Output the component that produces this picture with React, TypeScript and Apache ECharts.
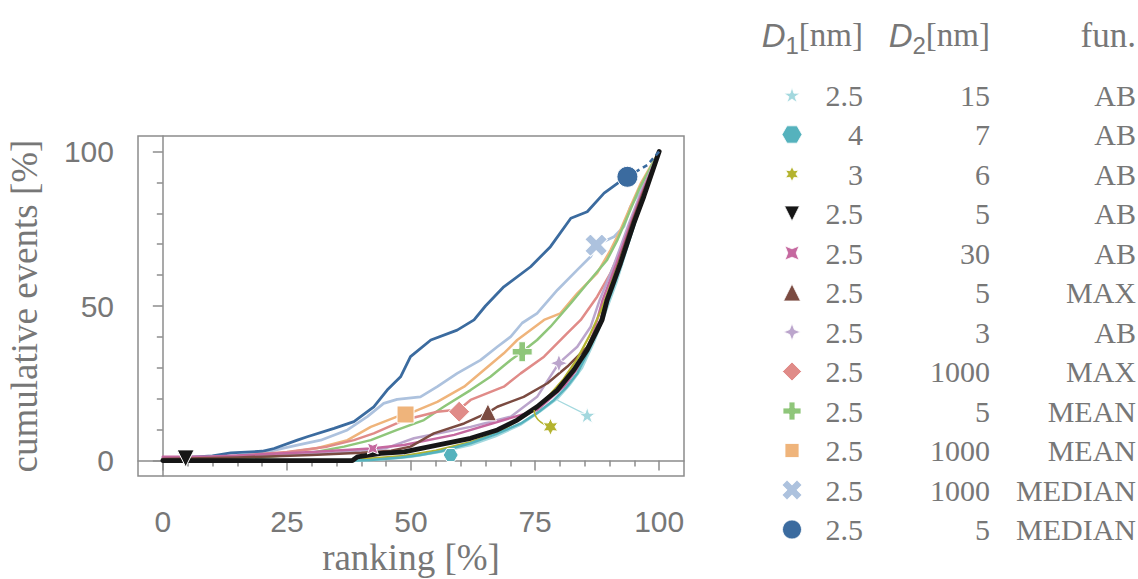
import React, { useEffect, useRef } from "react";
import * as echarts from "echarts";

// ---- table (legend) data ----
const D1_VALUES = ["2.5", "4", "3", "2.5", "2.5", "2.5", "2.5", "2.5", "2.5", "2.5", "2.5", "2.5"];
const D2_VALUES = ["15", "7", "6", "5", "30", "5", "3", "1000", "5", "1000", "1000", "5"];
const FUN_VALUES = ["AB", "AB", "AB", "AB", "AB", "MAX", "AB", "MAX", "MEAN", "MEAN", "MEDIAN", "MEDIAN"];

// ---- axis ticks ----
const X_MAJOR = [0, 25, 50, 75, 100];
const X_MINOR = [5, 10, 15, 20, 30, 35, 40, 45, 55, 60, 65, 70, 80, 85, 90, 95];
const Y_MAJOR = [0, 50, 100];
const Y_MINOR = [10, 20, 30, 40, 60, 70, 80, 90];

// ---- curves: [ranking %, cumulative events %] ----
const lightCyanCurve = [[0, 0], [40, 0], [44, 0.3], [50, 1.2], [56, 2.8], [62, 5], [67, 7.8], [72, 11.5], [76, 15.8], [79.5, 20], [82, 24.5], [84.5, 30], [86.8, 38], [89, 47], [91.5, 58], [93.8, 70], [95.8, 80], [97.6, 89], [100, 100]];
const cyanCurve = [[0, 0], [39, 0], [41.9, 0.2], [48, 1], [51.9, 1.8], [56, 3], [62, 5.6], [67, 8.5], [72.1, 12], [75.5, 15.5], [78.8, 19.6], [81.2, 23.5], [83.5, 28.2], [86.2, 37], [88.7, 47], [91.2, 58], [93.5, 69], [95.5, 79], [97.4, 88], [100, 100]];
const oliveCurve = [[0, 0], [38.5, 0], [40, 0.5], [48.6, 1.5], [55, 3.2], [62, 6], [67.5, 9], [72.7, 14.2], [74.8, 16.3], [77.8, 21], [80.8, 26.5], [83.5, 33], [86, 40.5], [88.4, 49], [91, 60], [93.8, 72], [96, 82], [97.8, 90], [100, 100]];
const blackCurve = [[0, 0], [38.2, 0], [39.2, 1.2], [43.9, 2.3], [48.6, 2.8], [55.3, 5], [62, 7.2], [67.4, 9.9], [71.4, 13.1], [75.4, 17.4], [79.5, 22.8], [82.8, 29.3], [85.5, 35.8], [87.5, 42.2], [88.5, 45.5], [89.5, 51.9], [92.2, 63.8], [94.9, 76.8], [96.9, 85.4], [100, 100]];
const pinkCurve = [[0, 1.2], [10, 1.3], [20, 2], [30, 2.8], [41.9, 3.9], [48.6, 5], [58.7, 8.3], [68.7, 13.1], [75.4, 16.3], [80.8, 23.9], [84.8, 32.5], [86.9, 42], [88.6, 51.9], [91.4, 63.8], [94.3, 77], [96.5, 86.5], [100, 100]];
const brownCurve = [[0, 0.5], [15, 1], [30, 1.8], [40, 2.5], [46, 3.2], [49.9, 4.5], [54.6, 8.8], [60.7, 12], [65.5, 15.5], [67.4, 17.4], [72.7, 20.6], [77.5, 25], [81.5, 30.4], [85.5, 36.8], [88.2, 45.5], [89.2, 51.9], [91.8, 63.8], [94.5, 76.8], [96.6, 86], [100, 100]];
const purpleCurve = [[0, 1], [20, 1.5], [35, 2.5], [45, 4], [50.6, 7.2], [62, 10.9], [70.1, 14.2], [75.4, 20.6], [79.8, 31.5], [83.5, 36.8], [86.2, 43.3], [88, 51.9], [91, 63.8], [94, 77], [96.4, 87], [100, 100]];
const salmonCurve = [[0, 0.5], [15, 1.5], [25, 2.8], [33.1, 4.5], [38.5, 6.6], [42.5, 8.8], [48.6, 13.1], [55.3, 15.8], [59.7, 16.5], [62, 19.6], [68.7, 23.9], [72.1, 28.2], [76.8, 33.6], [81.5, 41.2], [84.2, 45.5], [87.5, 53], [90.2, 60.6], [92.2, 68.1], [94.9, 78.9], [97, 88], [100, 100]];
const greenCurve = [[0, 0.3], [20, 1], [30, 2.5], [36.5, 4.5], [41.9, 6.6], [47.2, 9.9], [52.6, 13.1], [56.6, 17.4], [62, 22.8], [66, 27.1], [70.1, 32.5], [72.4, 35.2], [75.4, 39], [78.1, 43.3], [82.2, 50.9], [85.5, 57.3], [89.5, 64.9], [91.6, 71.4], [93.6, 78.9], [96, 88], [100, 100]];
const orangeCurve = [[0, 0.3], [20, 1.5], [31, 4], [37.2, 6.6], [41.9, 10.9], [47.2, 14.2], [48.9, 14.7], [55.3, 19], [60.7, 23.9], [64.7, 29.3], [68.7, 34.7], [71.4, 39], [74.1, 42.2], [76.8, 45.5], [80.1, 47.6], [83.5, 54.1], [87.5, 60.6], [90.2, 68.1], [92.2, 74.6], [94.2, 82.1], [96.3, 89.7], [100, 100]];
const lightBlueCurve = [[0, 0.5], [15, 1.5], [21, 2.8], [25.7, 4.5], [31.8, 6.6], [37.2, 9.9], [41.2, 14.2], [44.5, 18.5], [47.2, 19.8], [51.9, 20.6], [55.3, 23.9], [59.3, 28.2], [64, 32.5], [67.4, 36.8], [70.1, 40.1], [72.4, 44.5], [75.4, 47.6], [79.5, 55.2], [83.5, 61.7], [86.2, 66], [87.3, 69.7], [90.9, 72.4], [92.9, 75.7], [94.2, 82.1], [96.3, 87.5], [98.3, 94], [100, 100]];
const blueCurve = [[0, 0.5], [10, 1.5], [13.7, 2.5], [20, 3], [22.4, 3.9], [27.1, 6.6], [29.1, 7.7], [34.5, 10.4], [38.5, 12.6], [42.5, 17.4], [45.2, 22.8], [47.9, 27.1], [49.9, 33.6], [54, 39], [59.3, 42.2], [62.7, 45.5], [65, 50], [68.7, 56.2], [74.1, 62.7], [78.1, 69.2], [82.2, 78.4], [85.5, 80.5], [88.9, 86.5], [91.6, 89.7], [93.6, 91.8]];
const blueTail = [[93.6, 91.8], [97.6, 95.6], [100, 100]];

// marker positions per curve (same order as table rows)
const markLightCyan = [85.5, 14.7];
const markCyan = [58, 1.8];
const markOlive = [78.1, 10.9];
const markBlack = [4.6, 0.7];
const markPink = [42.3, 3.9];
const markBrown = [65.5, 15.6];
const markPurple = [79.8, 31.5];
const markSalmon = [59.7, 15.8];
const markGreen = [72.4, 35.2];
const markOrange = [48.9, 14.9];
const markLightBlue = [87.3, 69.7];
const markBlue = [93.6, 91.8];

// connector lines from curves to offset markers
const lightCyanLink = [[79.5, 19.5], [85.5, 14.7]];
const oliveLink = [[74.8, 16.3], [75.6, 13.2], [78.1, 10.9]];

const CURVES = [lightCyanCurve, cyanCurve, oliveCurve, blackCurve, pinkCurve, brownCurve, purpleCurve, salmonCurve, greenCurve, orangeCurve, lightBlueCurve, blueCurve];
const MARKS = [markLightCyan, markCyan, markOlive, markBlack, markPink, markBrown, markPurple, markSalmon, markGreen, markOrange, markLightBlue, markBlue];

// ---- symbols ----
const STAR5 = "path://M0 -10 L2.245 -3.09 L9.511 -3.09 L3.633 1.18 L5.878 8.09 L0 3.82 L-5.878 8.09 L-3.633 1.18 L-9.511 -3.09 L-2.245 -3.09 Z";
const STAR6 = "path://M0 -10 L2.6 -4.5 L8.66 -5 L5.2 0 L8.66 5 L2.6 4.5 L0 10 L-2.6 4.5 L-8.66 5 L-5.2 0 L-8.66 -5 L-2.6 -4.5 Z";
const HEX = "path://M-10 0 L-5 -8.66 L5 -8.66 L10 0 L5 8.66 L-5 8.66 Z";
const PLUS = "path://M-3.3 -10 L3.3 -10 L3.3 -3.3 L10 -3.3 L10 3.3 L3.3 3.3 L3.3 10 L-3.3 10 L-3.3 3.3 L-10 3.3 L-10 -3.3 L-3.3 -3.3 Z";
const STAR4 = "path://M0 -10 L2.8 -2.8 L10 0 L2.8 2.8 L0 10 L-2.8 2.8 L-10 0 L-2.8 -2.8 Z";
const CONCAVE = "path://M-10 -10 L0 -6 L10 -10 L6 0 L10 10 L0 6 L-10 10 L-6 0 Z";

const STYLE = [
  { color: "#a3d8de", symbol: STAR5, rot: 0, plot: 17, legend: 16, width: 2.2 },
  { color: "#55b2bd", symbol: HEX, rot: 0, plot: 15, legend: 20, width: 2.5 },
  { color: "#b4b32e", symbol: STAR6, rot: 0, plot: 17, legend: 15, width: 2.2 },
  { color: "#161616", symbol: "triangle", rot: 180, plot: 17, legend: 15, width: 4.8 },
  { color: "#c5689f", symbol: CONCAVE, rot: 0, plot: 11, legend: 14, width: 2.5 },
  { color: "#7b4b41", symbol: "triangle", rot: 0, plot: 17, legend: 17, width: 2.5 },
  { color: "#bba5cc", symbol: STAR4, rot: 0, plot: 18, legend: 17, width: 2.5 },
  { color: "#e08b88", symbol: "diamond", rot: 0, plot: 21, legend: 19, width: 2.5 },
  { color: "#8fc67a", symbol: PLUS, rot: 0, plot: 20, legend: 18, width: 2.5 },
  { color: "#efb47b", symbol: "rect", rot: 0, plot: 17, legend: 14, width: 2.5 },
  { color: "#adc2de", symbol: PLUS, rot: 45, plot: 24, legend: 21, width: 2.7 },
  { color: "#3b6b9f", symbol: "circle", rot: 0, plot: 21, legend: 19, width: 2.8 },
];
// drawing order of curves (bottom -> top)
const DRAW_ORDER = [10, 11, 9, 8, 7, 6, 4, 5, 2, 0, 1, 3];

const GRAY = "#777777";
const FRAME = "#8c8c8c";
const SANS = "'Liberation Sans', Arial, sans-serif";
const SERIF = "'Liberation Serif', 'Times New Roman', serif";

export default function App() {
  const ref = useRef<HTMLDivElement>(null);
  useEffect(() => {
    if (!ref.current) return;
    const chart = echarts.init(ref.current, undefined, { renderer: "svg" });

    const series: any[] = [];
    DRAW_ORDER.forEach((i, k) => {
      series.push({
        type: "line",
        xAxisIndex: 0,
        yAxisIndex: 0,
        data: CURVES[i],
        symbol: "none",
        silent: true,
        z: 2 + k * 0.01,
        lineStyle: { color: STYLE[i].color, width: STYLE[i].width, join: "round", cap: "round" },
      });
    });
    series.push({
      type: "line", xAxisIndex: 0, yAxisIndex: 0, data: blueTail, symbol: "none", silent: true, z: 2.2,
      lineStyle: { color: STYLE[11].color, width: 2.6, type: [5, 4] },
    });
    series.push({
      type: "line", xAxisIndex: 0, yAxisIndex: 0, data: lightCyanLink, symbol: "none", silent: true, z: 2.2,
      lineStyle: { color: STYLE[0].color, width: 1.3 },
    });
    series.push({
      type: "line", xAxisIndex: 0, yAxisIndex: 0, data: oliveLink, symbol: "none", silent: true, z: 2.2, smooth: true,
      lineStyle: { color: STYLE[2].color, width: 1.5 },
    });
    MARKS.forEach((m, i) => {
      series.push({
        type: "scatter",
        xAxisIndex: 0,
        yAxisIndex: 0,
        data: [m],
        symbol: STYLE[i].symbol,
        symbolSize: STYLE[i].plot,
        symbolRotate: STYLE[i].rot,
        symbolKeepAspect: true,
        silent: true,
        z: 5,
        itemStyle: { color: STYLE[i].color, borderColor: "#ffffff", borderWidth: 1, opacity: 1 },
      });
      series.push({
        type: "scatter",
        xAxisIndex: 2,
        yAxisIndex: 2,
        data: [[0, i]],
        symbol: STYLE[i].symbol,
        symbolSize: STYLE[i].legend,
        symbolRotate: STYLE[i].rot,
        symbolKeepAspect: true,
        silent: true,
        z: 5,
        itemStyle: { color: STYLE[i].color, borderColor: "#ffffff", borderWidth: 0.8, opacity: 1 },
      });
    });

    const rowY = (i: number) => 95 + 39.5 * i;
    const graphic: any[] = [];
    const hdrRich = {
      it: { fontFamily: SANS, fontStyle: "italic", fontSize: 33, lineHeight: 44, fill: GRAY },
      sub: { fontFamily: SANS, fontSize: 24, lineHeight: 24, verticalAlign: "bottom", fill: GRAY },
      rm: { fontFamily: SERIF, fontSize: 33, lineHeight: 44, fill: GRAY },
    };
    graphic.push({ type: "text", x: 863, y: 35, style: { text: "{it|D}{sub|1}{rm|[nm]}", rich: hdrRich, align: "right", verticalAlign: "middle" } });
    graphic.push({ type: "text", x: 990, y: 35, style: { text: "{it|D}{sub|2}{rm|[nm]}", rich: hdrRich, align: "right", verticalAlign: "middle" } });
    graphic.push({ type: "text", x: 1136, y: 35, style: { text: "fun.", fontFamily: SERIF, fontSize: 35, fill: GRAY, align: "right", verticalAlign: "middle" } });
    D1_VALUES.forEach((v, i) => {
      const common = { fontFamily: SERIF, fontSize: 30, fill: GRAY, align: "right", verticalAlign: "middle" };
      graphic.push({ type: "text", x: 863, y: rowY(i), style: { ...common, text: v } });
      graphic.push({ type: "text", x: 990, y: rowY(i), style: { ...common, text: D2_VALUES[i] } });
      graphic.push({ type: "text", x: 1136, y: rowY(i), style: { ...common, text: FUN_VALUES[i] } });
    });

    const axisLine = { show: true, lineStyle: { color: FRAME, width: 1.5 } };
    chart.setOption({
      animation: false,
      backgroundColor: "#ffffff",
      grid: [
        { left: 138, top: 136, width: 546, height: 340, show: true, borderColor: FRAME, borderWidth: 1.5, backgroundColor: "transparent", outerBoundsMode: "none", containLabel: false },
        { left: 780, top: 75.25, width: 24, height: 474, show: false, outerBoundsMode: "none", containLabel: false },
      ],
      xAxis: [
        {
          gridIndex: 0, type: "value", min: -5, max: 105, position: "bottom",
          axisLine,
          axisTick: { show: true, customValues: X_MAJOR, length: 10, lineStyle: { color: FRAME, width: 1.5 } },
          axisLabel: { show: true, customValues: X_MAJOR, fontSize: 30, fontFamily: SANS, color: GRAY, margin: 30 },
          splitLine: { show: false },
          name: "ranking [%]", nameLocation: "middle", nameGap: 63, nameMoveOverlap: false,
          nameTextStyle: { fontFamily: SERIF, fontSize: 37, color: GRAY },
        },
        {
          gridIndex: 0, type: "value", min: -5, max: 105, position: "bottom",
          axisLine: { show: false },
          axisTick: { show: true, customValues: X_MINOR, length: 6, lineStyle: { color: FRAME, width: 1.5 } },
          axisLabel: { show: false },
          splitLine: { show: false },
        },
        { gridIndex: 1, type: "value", min: -1, max: 1, show: false },
      ],
      yAxis: [
        {
          gridIndex: 0, type: "value", min: -5, max: 105, position: "left",
          axisLine,
          axisTick: { show: true, customValues: Y_MAJOR, length: 10, lineStyle: { color: FRAME, width: 1.5 } },
          axisLabel: { show: true, customValues: Y_MAJOR, fontSize: 30, fontFamily: SANS, color: GRAY, margin: 24 },
          splitLine: { show: false },
          name: "cumulative events [%]", nameLocation: "middle", nameGap: 95, nameRotate: 90, nameMoveOverlap: false,
          nameTextStyle: { fontFamily: SERIF, fontSize: 37, color: GRAY },
        },
        {
          gridIndex: 0, type: "value", min: -5, max: 105, position: "left",
          axisLine: { show: false },
          axisTick: { show: true, customValues: Y_MINOR, length: 6, lineStyle: { color: FRAME, width: 1.5 } },
          axisLabel: { show: false },
          splitLine: { show: false },
        },
        { gridIndex: 1, type: "value", min: -0.5, max: 11.5, inverse: true, show: false },
      ],
      series,
      graphic,
    });
    return () => chart.dispose();
  }, []);
  return <div ref={ref} style={{ position: "absolute", left: 0, top: 0, width: 1138, height: 579, background: "#fff" }} />;
}
